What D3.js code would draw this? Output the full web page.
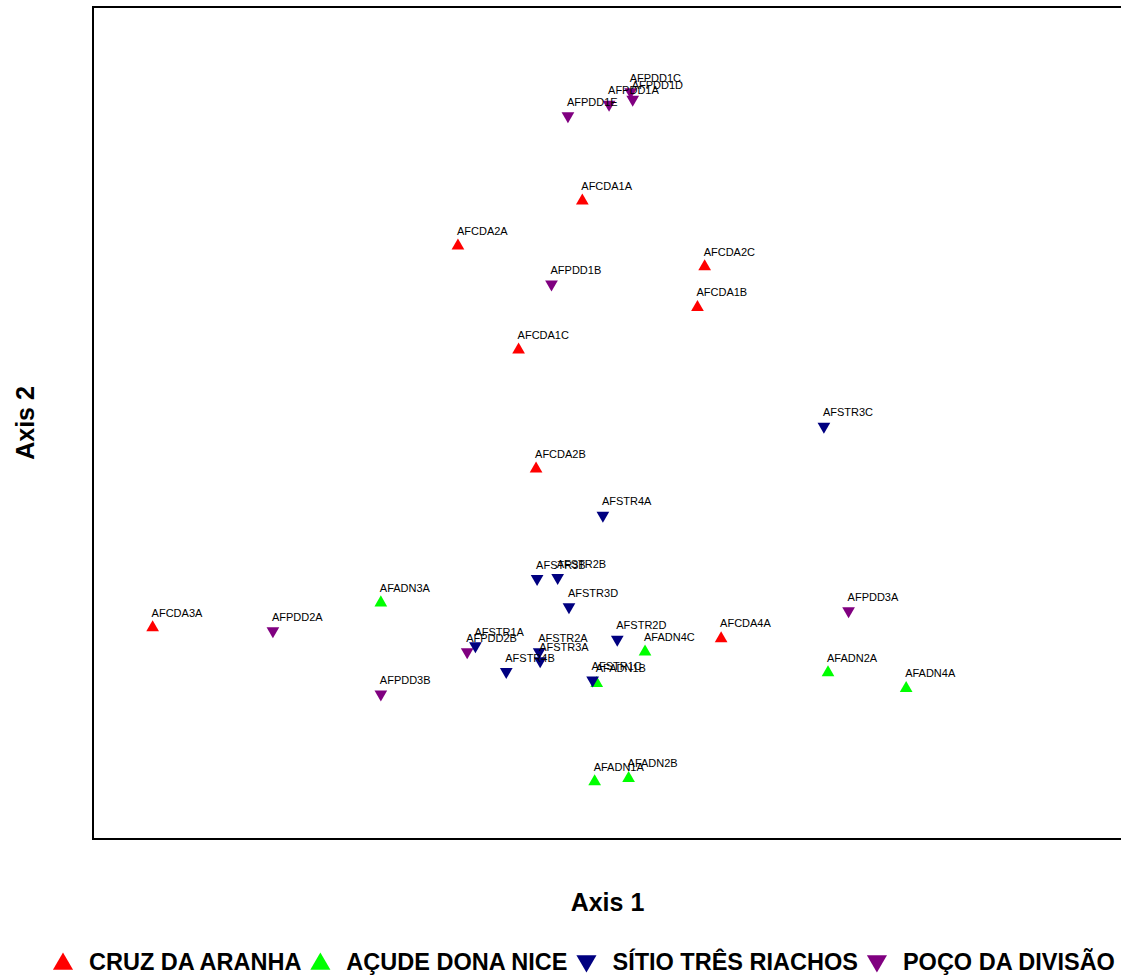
<!DOCTYPE html>
<html>
<head>
<meta charset="utf-8">
<script src="https://cdn.jsdelivr.net/npm/d3@7"></script>
<style>
  body { margin: 0; background: #fff; }
  text { font-family: 'Liberation Sans', Arial, sans-serif; }
</style>
</head>
<body>
<div id="container"></div>
<script>
// ordination scores (arbitrary units, no ticks on the axes)
const groupNames = ['CRUZ DA ARANHA', 'AÇUDE DONA NICE', 'SÍTIO TRÊS RIACHOS', 'POÇO DA DIVISÃO'];

const cruzDaAranha = [
  ['AFCDA1A', 47.6, 76.7],
  ['AFCDA2A', 35.5, 71.3],
  ['AFCDA2C', 59.5, 68.8],
  ['AFCDA1B', 58.8, 63.9],
  ['AFCDA1C', 41.4, 58.8],
  ['AFCDA2B', 43.1, 44.5],
  ['AFCDA3A', 5.8, 25.4],
  ['AFCDA4A', 61.1, 24.1],
];

const acudeDonaNice = [
  ['AFADN3A', 28.0, 28.4],
  ['AFADN4C', 53.7, 22.5],
  ['AFADN2A', 71.5, 20.0],
  ['AFADN4A', 79.1, 18.1],
  ['AFADN1B', 49.0, 18.7],
  ['AFADN1A', 48.8, 6.9],
  ['AFADN2B', 52.1, 7.3],
];

const sitioTresRiachos = [
  ['AFSTR3C', 71.1, 49.6],
  ['AFSTR4A', 49.6, 38.9],
  ['AFSTR3B', 43.2, 31.3],
  ['AFSTR2B', 45.2, 31.4],
  ['AFSTR3D', 46.3, 27.9],
  ['AFSTR2D', 51.0, 24.0],
  ['AFSTR1A', 37.2, 23.2],
  ['AFSTR2A', 43.4, 22.5],
  ['AFSTR3A', 43.5, 21.4],
  ['AFSTR4B', 40.2, 20.1],
  ['AFSTR1C', 48.6, 19.1],
];

const pocoDaDivisao = [
  ['AFPDD1C', 52.3, 89.8],
  ['AFPDD1D', 52.5, 88.9],
  ['AFPDD1A', 50.2, 88.3],
  ['AFPDD1E', 46.2, 86.9],
  ['AFPDD1B', 44.6, 66.7],
  ['AFPDD2A', 17.5, 25.0],
  ['AFPDD3A', 73.5, 27.4],
  ['AFPDD2B', 36.4, 22.5],
  ['AFPDD3B', 28.0, 17.4],
];

const groupData = [cruzDaAranha, acudeDonaNice, sitioTresRiachos, pocoDaDivisao];
const groupColors = ['#ff0000', '#00ff00', '#000080', '#800080'];
const groupUp = [true, true, false, false];
// drawing order so overlaps stack like the original
const drawOrder = [0, 1, 3, 2];

let svg,
  xScale,
  yScale,
  svgWidth = 1121,
  svgHeight = 976,
  plotLeft = 93,
  plotTop = 7,
  plotRight = 1122,
  plotBottom = 839;

const marker = (size) => d3.symbol().type(d3.symbolTriangle).size(size);

const drawGraph = () => {
  svg = d3
    .select('#container')
    .append('svg')
    .attr('width', svgWidth)
    .attr('height', svgHeight);

  svg
    .append('rect')
    .attr('x', plotLeft)
    .attr('y', plotTop)
    .attr('width', plotRight - plotLeft)
    .attr('height', plotBottom - plotTop)
    .attr('fill', 'none')
    .attr('stroke', '#000')
    .attr('stroke-width', 2);

  svg
    .append('text')
    .text('Axis 1')
    .attr('x', (plotLeft + plotRight) / 2)
    .attr('y', 911)
    .attr('text-anchor', 'middle')
    .attr('font-weight', 'bold')
    .attr('font-size', 25);

  svg
    .append('text')
    .text('Axis 2')
    .attr('transform', `translate(34,${(plotTop + plotBottom) / 2}) rotate(-90)`)
    .attr('text-anchor', 'middle')
    .attr('font-weight', 'bold')
    .attr('font-size', 25);
};

const generateScales = () => {
  xScale = d3.scaleLinear().domain([0, 100]).range([plotLeft, plotRight - 1]);
  yScale = d3.scaleLinear().domain([0, 100]).range([plotBottom, plotTop]);
};

const drawPoints = () => {
  drawOrder.forEach((g) => {
    const grp = svg.append('g').attr('class', 'group-' + g);
    grp
      .selectAll('path')
      .data(groupData[g])
      .enter()
      .append('path')
      .attr('d', marker(70)())
      .attr('fill', groupColors[g])
      .attr(
        'transform',
        (d) =>
          `translate(${xScale(d[1])},${yScale(d[2])})` +
          (groupUp[g] ? '' : ' rotate(180)')
      );
  });

  drawOrder.forEach((g) => {
    svg
      .append('g')
      .selectAll('text')
      .data(groupData[g])
      .enter()
      .append('text')
      .text((d) => d[0])
      .attr('x', (d) => xScale(d[1]) - 1)
      .attr('y', (d) => yScale(d[2]) - (groupUp[g] ? 11 : 10))
      .attr('font-size', 11)
      .attr('fill', '#000');
  });
};

const drawLegend = () => {
  const legend = svg.append('g').attr('class', 'legend');
  let cursor = 53;
  groupNames.forEach((name, i) => {
    legend
      .append('path')
      .attr('d', marker(175)())
      .attr('fill', groupColors[i])
      .attr(
        'transform',
        `translate(${cursor + 10},${groupUp[i] ? 964 : 961})` +
          (groupUp[i] ? '' : ' rotate(180)')
      );
    const t = legend
      .append('text')
      .text(name)
      .attr('x', cursor + 36)
      .attr('y', 970)
      .attr('font-weight', 'bold')
      .attr('font-size', 23.5);
    cursor = cursor + 36 + t.node().getComputedTextLength() + 9;
  });
};

drawGraph();
generateScales();
drawPoints();
drawLegend();
</script>
</body>
</html>
